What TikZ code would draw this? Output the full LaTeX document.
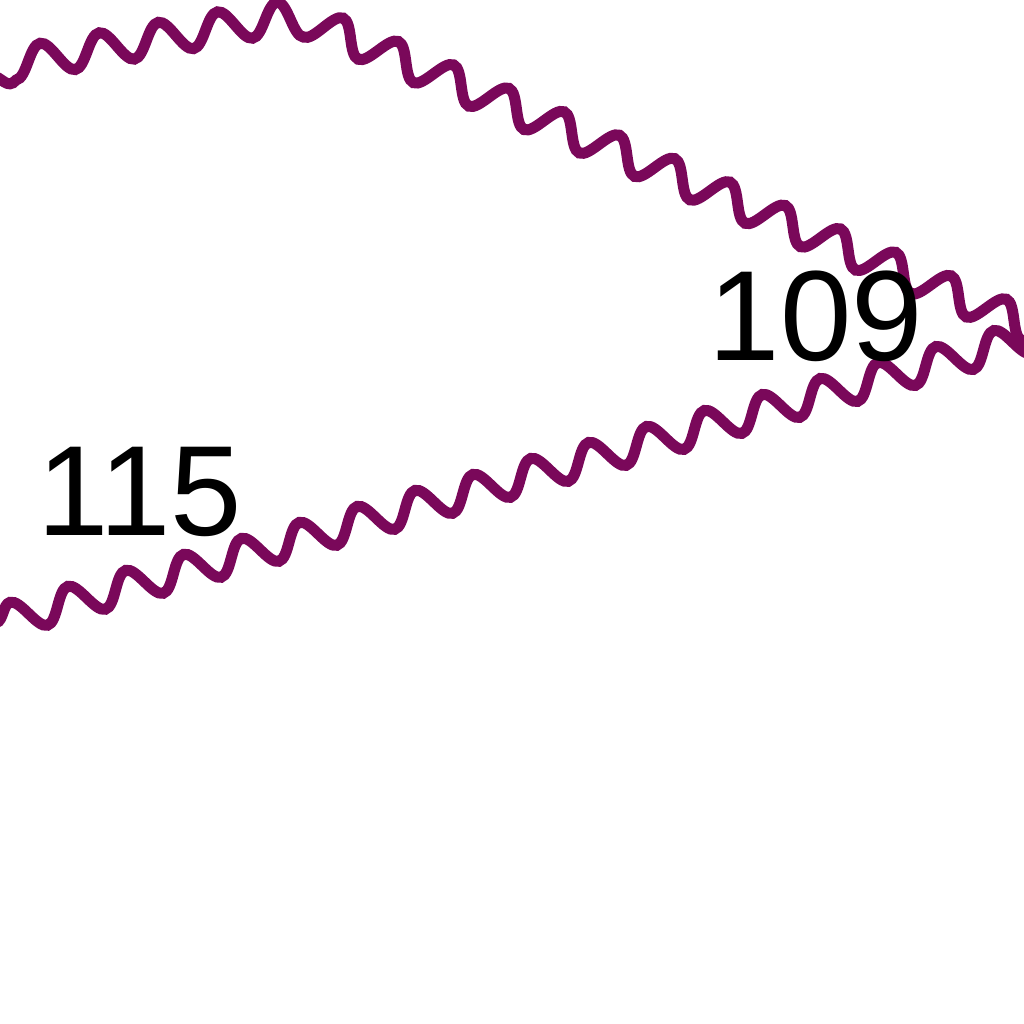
\documentclass[tikz,border=0pt]{standalone}
\usepackage{fontspec}
\setmainfont{Liberation Sans}
\usetikzlibrary{decorations.pathmorphing, calc}
\definecolor{wavecol}{RGB}{122,8,90}

\begin{document}
\begin{tikzpicture}[
  x=0.01cm, y=-0.01cm,
  photon/.style={draw=wavecol, line width=0.11cm, decorate,
    decoration={snake, amplitude=0.16cm, segment length=0.6cm}},
  lbl/.style={font=\fontsize{36.5}{40}\selectfont, inner sep=0pt, anchor=base}
]
\useasboundingbox (0,0) rectangle (1024,1024);

\coordinate (vertex) at (1045,333);
\coordinate (bend) at (309,21);
\coordinate (top) at (-30,81);
\coordinate (bottom) at (-30,630);

% upper line, bent near the top edge
\draw[photon] (vertex) -- ($(bend)!0.08!(vertex)$)
  .. controls (bend) .. ($(bend)!0.15!(top)$) -- (top);
\draw[photon] (vertex) -- (bottom);

\node[lbl] (l109) at (816,360) {109};
\node[lbl] (l115) at (140,535) {115};
\end{tikzpicture}
\end{document}
